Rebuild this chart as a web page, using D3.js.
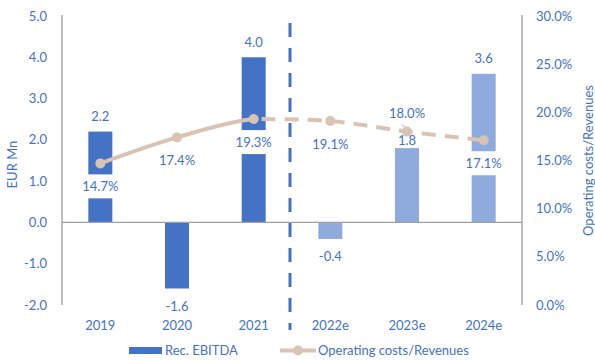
<!DOCTYPE html>
<html><head><meta charset="utf-8">
<script src="https://cdn.jsdelivr.net/npm/d3@7"></script>
<style>body{margin:0;background:#fff}svg{display:block}text{font-family:Lato,"Open Sans",sans-serif}</style>
</head><body><svg id="c" width="595" height="361"></svg>
<script>
const categories = ["2019","2020","2021","2022e","2023e","2024e"];
const ebitda = [2.2,-1.6,4.0,-0.4,1.8,3.6];
const opCostRatio = [14.7,17.4,19.3,19.1,18.0,17.1];
const estimated = [false,false,false,true,true,true];
const leftTicks = [-2,-1,0,1,2,3,4,5];
const rightTicks = [0,5,10,15,20,25,30];
const ratioLabelPos = ["below","below","below","below","above","below"];

const blue = "#4472C4", lightBlue = "#8FAADC", beige = "#D9C4B4", axisCol = "#A0A0A0";
const fmt = d3.formatLocale({decimal:".", thousands:",", grouping:[3], currency:["",""], minus:"-"}).format(".1f");
const svg = d3.select("#c");
const L = 62, R = 522, T = 16, B = 305;
const x = d3.scaleBand().domain(categories).range([L, R]);
const yL = d3.scaleLinear().domain([-2, 5]).range([B, T]);
const yR = d3.scaleLinear().domain([0, 30]).range([B, T]);
const bw = 24;
const fs = 13;

// bars
svg.selectAll("rect.bar").data(categories).join("rect")
  .attr("x", d => x(d) + x.bandwidth()/2 - bw/2)
  .attr("width", bw)
  .attr("y", (d,i) => yL(Math.max(0, ebitda[i])))
  .attr("height", (d,i) => Math.abs(yL(ebitda[i]) - yL(0)))
  .attr("fill", (d,i) => estimated[i] ? lightBlue : blue);

// axes
svg.append("line").attr("x1", L).attr("x2", L).attr("y1", T-1).attr("y2", B).attr("stroke", axisCol).attr("stroke-width", 1.3);
svg.append("line").attr("x1", R).attr("x2", R).attr("y1", T-1).attr("y2", B).attr("stroke", axisCol).attr("stroke-width", 1.3);
svg.append("line").attr("x1", L).attr("x2", R).attr("y1", yL(0)).attr("y2", yL(0)).attr("stroke", axisCol).attr("stroke-width", 1.3);

svg.selectAll("text.lt").data(leftTicks).join("text")
  .attr("x", 47).attr("y", d => yL(d)).attr("dy", "0.35em").attr("text-anchor", "end")
  .attr("fill", blue).attr("font-size", fs).text(d => fmt(d));
svg.selectAll("text.rt").data(rightTicks).join("text")
  .attr("x", 536).attr("y", d => yR(d)).attr("dy", "0.35em").attr("text-anchor", "start")
  .attr("fill", blue).attr("font-size", fs).text(d => fmt(d) + "%");
svg.selectAll("text.ct").data(categories).join("text")
  .attr("x", d => x(d) + x.bandwidth()/2).attr("y", 330).attr("text-anchor", "middle")
  .attr("fill", blue).attr("font-size", fs).text(d => d);

svg.append("text").attr("transform", `translate(17,${(T+B)/2 + 4}) rotate(-90)`).attr("text-anchor","middle")
  .attr("fill", blue).attr("font-size", fs).text("EUR Mn");
svg.append("text").attr("transform", `translate(593,${(T+B)/2}) rotate(-90)`).attr("text-anchor","middle")
  .attr("fill", blue).attr("font-size", fs).text("Operating costs/Revenues");

// vertical dashed separator
svg.append("line").attr("x1", 290).attr("x2", 290).attr("y1", 23).attr("y2", 330)
  .attr("stroke", blue).attr("stroke-width", 3).attr("stroke-dasharray", "14,11");

// line
const pts = categories.map((c,i) => [x(c) + x.bandwidth()/2, yR(opCostRatio[i])]);
const lineGen = d3.line().curve(d3.curveCatmullRom.alpha(0.5));
const splitX = pts[2][0];
const defs = svg.append("defs");
defs.append("clipPath").attr("id","cl").append("rect").attr("x",0).attr("y",0).attr("width",splitX).attr("height",361);
defs.append("clipPath").attr("id","cr").append("rect").attr("x",splitX).attr("y",0).attr("width",595-splitX).attr("height",361);
svg.append("path").attr("d", lineGen(pts)).attr("fill","none").attr("stroke", beige).attr("stroke-width",4)
  .attr("stroke-linecap","round").attr("clip-path","url(#cl)");
svg.append("path").attr("d", lineGen(pts.slice(2))).attr("fill","none").attr("stroke", beige).attr("stroke-width",4)
  .attr("stroke-dasharray","14,9").attr("stroke-dashoffset", -8).attr("clip-path","url(#cr)");

// ratio labels with white boxes
const lg = svg.append("g");
categories.forEach((c,i) => {
  const cx = pts[i][0];
  const cy = ratioLabelPos[i] === "below" ? pts[i][1] + 23 : pts[i][1] - 18;
  const t = lg.append("text").attr("x", cx).attr("y", cy).attr("dy","0.35em").attr("text-anchor","middle")
    .attr("fill", blue).attr("font-size", fs).text(fmt(opCostRatio[i]) + "%");
  const bb = t.node().getBBox();
  lg.insert("rect", "text").attr("x", bb.x - 3).attr("y", cy - 12).attr("width", bb.width + 6).attr("height", 24).attr("fill", "#fff");
});
// leader line for 2023e
svg.append("line").attr("x1", pts[4][0]-5).attr("y1", pts[4][1]-7).attr("x2", pts[4][0]).attr("y2", pts[4][1]-2)
  .attr("stroke","#888").attr("stroke-width",0.8);

svg.selectAll("circle.m").data(pts).join("circle")
  .attr("cx", d => d[0]).attr("cy", d => d[1]).attr("r", 5).attr("fill", beige);

// bar labels (nudged below a marker if they would collide)
svg.selectAll("text.bl").data(categories).join("text")
  .attr("x", d => x(d) + x.bandwidth()/2)
  .attr("y", (d,i) => {
    let cy = ebitda[i] >= 0 ? yL(ebitda[i]) - 15 : yL(ebitda[i]) + 18;
    if (Math.abs(cy - pts[i][1]) < 9) cy = pts[i][1] + 9;
    return cy;
  })
  .attr("dy", "0.35em")
  .attr("text-anchor", "middle").attr("fill", blue).attr("font-size", fs)
  .text((d,i) => fmt(ebitda[i]));

// legend
svg.append("rect").attr("x",129).attr("y",347).attr("width",33).attr("height",7).attr("fill",blue);
svg.append("text").attr("x",165).attr("y",355).attr("fill",blue).attr("font-size",fs).text("Rec. EBITDA");
svg.append("line").attr("x1",280).attr("x2",316).attr("y1",350.5).attr("y2",350.5).attr("stroke",beige).attr("stroke-width",4);
svg.append("circle").attr("cx",298).attr("cy",350.5).attr("r",5).attr("fill",beige);
svg.append("text").attr("x",318).attr("y",355).attr("fill",blue).attr("font-size",fs).text("Operating costs/Revenues");
</script></body></html>
